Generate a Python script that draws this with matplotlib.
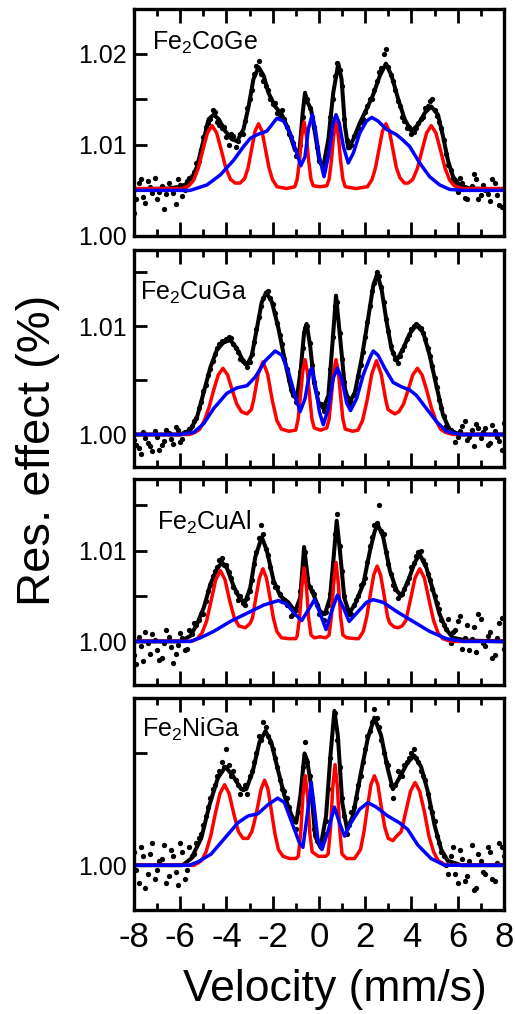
import numpy as np
import matplotlib
matplotlib.use("Agg")
import matplotlib.pyplot as plt

plt.rcParams['font.family'] = ['Liberation Sans', 'DejaVu Sans']
plt.rcParams['axes.unicode_minus'] = False

# Data: (velocity mm/s, relative effect)
names = [r'Fe$_\mathregular{2}$CoGe', r'Fe$_\mathregular{2}$CuGa',
         r'Fe$_\mathregular{2}$CuAl', r'Fe$_\mathregular{2}$NiGa']

# measured points: even channels (-8.0 ... 8.0) and odd channels (-7.9 ... 7.9), step 0.2
dot_vel = np.linspace(-8, 8, 81)
dot_vel_odd = np.linspace(-7.9, 7.9, 80)

coge_dots = [1.0025, 1.0058, 1.0043, 1.0060, 1.0047, 1.0040, 1.0055, 1.0046, 1.0052, 1.0035,
             1.0056, 1.0050, 1.0064, 1.0070, 1.0082, 1.0108, 1.0124, 1.0138, 1.0125, 1.0118,
             1.0108, 1.0112, 1.0098, 1.0112, 1.0126, 1.0150, 1.0178, 1.0192, 1.0170, 1.0160,
             1.0145, 1.0135, 1.0138, 1.0120, 1.0108, 1.0088, 1.0100, 1.0152, 1.0140, 1.0120,
             1.0082, 1.0072, 1.0100, 1.0150, 1.0190, 1.0165, 1.0105, 1.0100, 1.0112, 1.0125,
             1.0136, 1.0150, 1.0160, 1.0180, 1.0200, 1.0185, 1.0170, 1.0148, 1.0130, 1.0118,
             1.0112, 1.0118, 1.0128, 1.0140, 1.0148, 1.0138, 1.0125, 1.0105, 1.0078, 1.0062,
             1.0048, 1.0058, 1.0040, 1.0055, 1.0062, 1.0045, 1.0050, 1.0038, 1.0058, 1.0034,
             1.0052]
coge_dots_odd = [1.0040, 1.0062, 1.0036, 1.0054, 1.0064, 1.0048, 1.0030, 1.0058, 1.0047, 1.0062,
                 1.0044, 1.0060, 1.0066, 1.0080, 1.0094, 1.0120, 1.0128, 1.0136, 1.0122, 1.0120,
                 1.0100, 1.0110, 1.0104, 1.0112, 1.0140, 1.0160, 1.0186, 1.0178, 1.0165, 1.0150,
                 1.0146, 1.0130, 1.0128, 1.0112, 1.0102, 1.0090, 1.0130, 1.0150, 1.0130, 1.0098,
                 1.0080, 1.0088, 1.0130, 1.0175, 1.0182, 1.0128, 1.0098, 1.0110, 1.0118, 1.0128,
                 1.0142, 1.0150, 1.0170, 1.0184, 1.0205, 1.0176, 1.0160, 1.0142, 1.0126, 1.0120,
                 1.0114, 1.0124, 1.0130, 1.0142, 1.0150, 1.0132, 1.0118, 1.0090, 1.0072, 1.0058,
                 1.0064, 1.0042, 1.0052, 1.0068, 1.0040, 1.0056, 1.0046, 1.0062, 1.0045, 1.0032]
cuga_dots = [0.9995, 0.9988, 1.0002, 0.9992, 0.9985, 0.9998, 0.9990, 1.0004, 0.9996, 1.0007,
             0.9993, 1.0002, 1.0005, 1.0012, 1.0024, 1.0040, 1.0055, 1.0068, 1.0080, 1.0086,
             1.0088, 1.0089, 1.0080, 1.0070, 1.0066, 1.0067, 1.0085, 1.0108, 1.0126, 1.0132,
             1.0120, 1.0103, 1.0083, 1.0060, 1.0042, 1.0030, 1.0058, 1.0098, 1.0084, 1.0048,
             1.0028, 1.0022, 1.0035, 1.0090, 1.0122, 1.0070, 1.0035, 1.0030, 1.0042, 1.0064,
             1.0090, 1.0118, 1.0140, 1.0146, 1.0122, 1.0095, 1.0075, 1.0066, 1.0078, 1.0088,
             1.0097, 1.0102, 1.0098, 1.0088, 1.0072, 1.0052, 1.0032, 1.0017, 1.0006, 1.0002,
             0.9998, 1.0008, 0.9995, 1.0004, 1.0010, 0.9997, 1.0006, 0.9992, 1.0003, 0.9994,
             1.0011]
cuga_dots_odd = [0.9990, 0.9982, 0.9997, 0.9989, 1.0003, 0.9986, 0.9994, 1.0001, 0.9991, 1.0004,
                 0.9996, 1.0001, 1.0008, 1.0015, 1.0030, 1.0046, 1.0060, 1.0074, 1.0083, 1.0086,
                 1.0090, 1.0083, 1.0076, 1.0068, 1.0062, 1.0074, 1.0097, 1.0118, 1.0130, 1.0126,
                 1.0112, 1.0092, 1.0070, 1.0050, 1.0036, 1.0040, 1.0080, 1.0100, 1.0064, 1.0038,
                 1.0028, 1.0026, 1.0060, 1.0118, 1.0094, 1.0048, 1.0027, 1.0036, 1.0054, 1.0076,
                 1.0104, 1.0132, 1.0150, 1.0136, 1.0106, 1.0082, 1.0070, 1.0072, 1.0082, 1.0092,
                 1.0100, 1.0100, 1.0094, 1.0080, 1.0063, 1.0044, 1.0024, 1.0008, 1.0004, 0.9993,
                 1.0003, 1.0012, 0.9998, 0.9989, 1.0006, 1.0002, 0.9990, 1.0009, 0.9998, 0.9986]
cual_dots = [0.9985, 1.0005, 0.9978, 0.9998, 1.0008, 0.9990, 0.9982, 1.0012, 0.9994, 0.9986,
             1.0009, 0.9990, 1.0012, 1.0020, 1.0024, 1.0030, 1.0055, 1.0072, 1.0082, 1.0092,
             1.0084, 1.0070, 1.0054, 1.0050, 1.0040, 1.0055, 1.0085, 1.0114, 1.0118, 1.0095,
             1.0065, 1.0060, 1.0045, 1.0040, 1.0028, 1.0035, 1.0055, 1.0098, 1.0060, 1.0052,
             1.0030, 1.0024, 1.0040, 1.0085, 1.0140, 1.0078, 1.0036, 1.0030, 1.0046, 1.0062,
             1.0070, 1.0105, 1.0128, 1.0150, 1.0118, 1.0085, 1.0062, 1.0048, 1.0052, 1.0064,
             1.0082, 1.0094, 1.0100, 1.0085, 1.0068, 1.0050, 1.0036, 1.0018, 1.0025, 1.0010,
             1.0022, 0.9992, 1.0018, 1.0003, 0.9988, 1.0025, 0.9995, 1.0010, 0.9985, 1.0020,
             0.9992]
cual_dots_odd = [0.9975, 0.9995, 1.0010, 0.9986, 1.0002, 0.9980, 0.9998, 1.0005, 0.9976, 0.9996,
                 1.0004, 0.9992, 1.0008, 1.0018, 1.0030, 1.0045, 1.0062, 1.0078, 1.0090, 1.0084,
                 1.0076, 1.0060, 1.0046, 1.0042, 1.0048, 1.0068, 1.0098, 1.0128, 1.0102, 1.0082,
                 1.0060, 1.0052, 1.0046, 1.0040, 1.0030, 1.0040, 1.0085, 1.0070, 1.0056, 1.0040,
                 1.0030, 1.0032, 1.0052, 1.0118, 1.0105, 1.0050, 1.0030, 1.0040, 1.0050, 1.0064,
                 1.0088, 1.0115, 1.0130, 1.0122, 1.0098, 1.0074, 1.0058, 1.0052, 1.0058, 1.0070,
                 1.0086, 1.0098, 1.0090, 1.0074, 1.0058, 1.0042, 1.0024, 1.0014, 0.9998, 1.0012,
                 1.0028, 1.0004, 0.9990, 1.0016, 1.0030, 0.9998, 1.0006, 0.9982, 1.0004, 1.0026]
niga_dots = [1.0006, 0.9992, 1.0004, 0.9996, 1.0010, 0.9998, 1.0003, 0.9992, 1.0007, 0.9997,
             1.0010, 0.9994, 1.0008, 1.0005, 1.0012, 1.0018, 1.0026, 1.0034, 1.0040, 1.0046,
             1.0052, 1.0040, 1.0038, 1.0032, 1.0036, 1.0040, 1.0046, 1.0058, 1.0064, 1.0058,
             1.0052, 1.0044, 1.0034, 1.0030, 1.0022, 1.0016, 1.0030, 1.0055, 1.0040, 1.0016,
             1.0010, 1.0014, 1.0034, 1.0062, 1.0056, 1.0030, 1.0014, 1.0024, 1.0030, 1.0040,
             1.0052, 1.0060, 1.0070, 1.0062, 1.0050, 1.0045, 1.0030, 1.0042, 1.0040, 1.0046,
             1.0050, 1.0048, 1.0042, 1.0038, 1.0026, 1.0020, 1.0010, 1.0004, 0.9996, 1.0008,
             0.9992, 1.0003, 0.9995, 1.0009, 0.9990, 1.0002, 0.9996, 1.0006, 0.9993, 1.0010,
             1.0004]
niga_dots_odd = [0.9998, 1.0008, 0.9990, 1.0005, 0.9994, 1.0002, 1.0009, 0.9995, 1.0004, 0.9991,
                 1.0006, 0.9998, 1.0004, 1.0010, 1.0014, 1.0022, 1.0030, 1.0036, 1.0042, 1.0044,
                 1.0045, 1.0042, 1.0036, 1.0034, 1.0032, 1.0042, 1.0050, 1.0056, 1.0062, 1.0055,
                 1.0048, 1.0038, 1.0033, 1.0026, 1.0020, 1.0024, 1.0044, 1.0046, 1.0030, 1.0011,
                 1.0008, 1.0020, 1.0048, 1.0068, 1.0044, 1.0022, 1.0018, 1.0026, 1.0036, 1.0046,
                 1.0058, 1.0064, 1.0066, 1.0056, 1.0046, 1.0036, 1.0036, 1.0040, 1.0045, 1.0048,
                 1.0052, 1.0046, 1.0040, 1.0032, 1.0024, 1.0013, 1.0006, 1.0000, 1.0004, 0.9996,
                 1.0007, 0.9993, 1.0002, 0.9989, 1.0005, 0.9997, 1.0008, 0.9994, 1.0001, 1.0008]

# total fit (black)
coge_fit = [(-8, 1.0051), (-6.52, 1.0052), (-6.0, 1.0054), (-5.56, 1.0059), (-5.27, 1.0076),
            (-4.98, 1.0106), (-4.77, 1.0128), (-4.55, 1.0133), (-4.33, 1.0128), (-4.05, 1.0115),
            (-3.76, 1.0106), (-3.54, 1.0104), (-3.26, 1.0117), (-3.04, 1.0142), (-2.83, 1.0172),
            (-2.61, 1.0185), (-2.39, 1.0176), (-2.18, 1.0157), (-1.89, 1.0142), (-1.60, 1.0133),
            (-1.32, 1.0117), (-1.03, 1.0094), (-0.84, 1.0093), (-0.70, 1.0135), (-0.60, 1.0157),
            (-0.48, 1.0146), (-0.34, 1.0139), (-0.17, 1.0113), (0.02, 1.0083), (0.19, 1.0076),
            (0.41, 1.0106), (0.62, 1.0157), (0.84, 1.0189), (0.98, 1.0172), (1.13, 1.0120),
            (1.27, 1.0096), (1.49, 1.0106), (1.77, 1.0124), (2.06, 1.0139), (2.35, 1.0155),
            (2.64, 1.0176), (2.90, 1.0189), (3.14, 1.0176), (3.43, 1.0150), (3.71, 1.0128),
            (4.00, 1.0115), (4.29, 1.0122), (4.58, 1.0135), (4.86, 1.0142), (5.15, 1.0133),
            (5.37, 1.0109), (5.58, 1.0083), (5.80, 1.0065), (6.09, 1.0056), (6.52, 1.0052),
            (8, 1.0051)]
cuga_fit = [(-8, 1.0000), (-6.0, 1.0000), (-5.56, 1.0004), (-5.27, 1.0016), (-4.98, 1.0039),
            (-4.69, 1.0062), (-4.41, 1.0078), (-4.12, 1.0085), (-3.83, 1.0087), (-3.54, 1.0079),
            (-3.33, 1.0070), (-3.11, 1.0064), (-2.90, 1.0073), (-2.68, 1.0098), (-2.47, 1.0122),
            (-2.28, 1.0131), (-2.03, 1.0122), (-1.75, 1.0098), (-1.46, 1.0067), (-1.17, 1.0039),
            (-0.96, 1.0032), (-0.78, 1.0061), (-0.64, 1.0094), (-0.53, 1.0102), (-0.38, 1.0082),
            (-0.21, 1.0048), (-0.02, 1.0030), (0.19, 1.0024), (0.41, 1.0036), (0.58, 1.0082),
            (0.74, 1.0128), (0.91, 1.0091), (1.13, 1.0042), (1.31, 1.0029), (1.56, 1.0039),
            (1.85, 1.0070), (2.13, 1.0107), (2.35, 1.0137), (2.52, 1.0148), (2.71, 1.0134),
            (2.92, 1.0105), (3.14, 1.0079), (3.36, 1.0068), (3.64, 1.0079), (3.93, 1.0093),
            (4.22, 1.0101), (4.51, 1.0094), (4.79, 1.0073), (5.08, 1.0045), (5.37, 1.0018),
            (5.66, 1.0004), (6.09, 1.0000), (8, 1.0000)]
cual_fit = [(-8, 1.0000), (-6.0, 1.0000), (-5.56, 1.0006), (-5.27, 1.0019), (-4.98, 1.0037),
            (-4.69, 1.0063), (-4.41, 1.0080), (-4.19, 1.0087), (-3.98, 1.0081), (-3.69, 1.0061),
            (-3.40, 1.0046), (-3.18, 1.0044), (-2.97, 1.0059), (-2.75, 1.0093), (-2.47, 1.0115),
            (-2.25, 1.0100), (-1.96, 1.0067), (-1.67, 1.0050), (-1.32, 1.0043), (-1.03, 1.0033),
            (-0.81, 1.0048), (-0.64, 1.0104), (-0.45, 1.0063), (-0.24, 1.0052), (0.05, 1.0033),
            (0.26, 1.0030), (0.48, 1.0048), (0.65, 1.0096), (0.77, 1.0133), (0.91, 1.0100),
            (1.10, 1.0048), (1.31, 1.0031), (1.56, 1.0041), (1.92, 1.0063), (2.21, 1.0100),
            (2.42, 1.0122), (2.56, 1.0128), (2.78, 1.0115), (3.07, 1.0078), (3.36, 1.0056),
            (3.57, 1.0050), (3.86, 1.0067), (4.15, 1.0087), (4.36, 1.0096), (4.65, 1.0081),
            (4.94, 1.0056), (5.22, 1.0030), (5.51, 1.0013), (5.80, 1.0004), (6.37, 1.0001),
            (8, 1.0000)]
niga_fit = [(-8, 1.0000), (-5.9, 1.0000), (-5.52, 1.0003), (-5.09, 1.0012), (-4.73, 1.0027),
            (-4.37, 1.0039), (-4.04, 1.0044), (-3.72, 1.0040), (-3.36, 1.0034), (-3.14, 1.0034),
            (-2.86, 1.0042), (-2.57, 1.0055), (-2.31, 1.0060), (-2.06, 1.0055), (-1.78, 1.0043),
            (-1.49, 1.0031), (-1.17, 1.0022), (-0.98, 1.0019), (-0.80, 1.0031), (-0.62, 1.0050),
            (-0.51, 1.0047), (-0.36, 1.0037), (-0.16, 1.0013), (0.07, 1.0008), (0.31, 1.0022),
            (0.50, 1.0049), (0.67, 1.0069), (0.82, 1.0058), (1.01, 1.0028), (1.22, 1.0016),
            (1.47, 1.0022), (1.83, 1.0042), (2.12, 1.0057), (2.40, 1.0066), (2.69, 1.0058),
            (2.98, 1.0043), (3.20, 1.0034), (3.48, 1.0039), (3.84, 1.0046), (4.13, 1.0049),
            (4.42, 1.0044), (4.71, 1.0033), (5.00, 1.0018), (5.29, 1.0007), (5.57, 1.0002),
            (6.15, 1.0000), (8, 1.0000)]

# sextet component (red)
coge_red = [(-8, 1.0052), (-5.9, 1.0052), (-5.62, 1.0055), (-5.42, 1.0061), (-5.22, 1.0074),
            (-5.02, 1.0094), (-4.82, 1.0113), (-4.62, 1.0121), (-4.42, 1.0113), (-4.22, 1.0094),
            (-4.02, 1.0074), (-3.82, 1.0062), (-3.62, 1.0058), (-3.41, 1.0058), (-3.21, 1.0063),
            (-3.06, 1.0075), (-2.91, 1.0095), (-2.76, 1.0115), (-2.61, 1.0123), (-2.46, 1.0115),
            (-2.31, 1.0095), (-2.16, 1.0075), (-2.01, 1.0062), (-1.81, 1.0054), (-1.4, 1.0052),
            (-1.04, 1.0054), (-0.94, 1.0062), (-0.84, 1.0082), (-0.74, 1.0110), (-0.64, 1.0125),
            (-0.54, 1.0110), (-0.44, 1.0082), (-0.34, 1.0062), (-0.24, 1.0055), (0.05, 1.0054),
            (0.34, 1.0055), (0.44, 1.0062), (0.54, 1.0082), (0.64, 1.0110), (0.74, 1.0125),
            (0.84, 1.0110), (0.94, 1.0082), (1.04, 1.0062), (1.14, 1.0054), (1.6, 1.0052),
            (2.10, 1.0054), (2.30, 1.0062), (2.45, 1.0075), (2.60, 1.0095), (2.75, 1.0115),
            (2.90, 1.0123), (3.05, 1.0115), (3.20, 1.0095), (3.35, 1.0075), (3.50, 1.0064),
            (3.70, 1.0058), (3.86, 1.0058), (4.06, 1.0062), (4.26, 1.0074), (4.46, 1.0094),
            (4.66, 1.0113), (4.86, 1.0121), (5.06, 1.0113), (5.26, 1.0094), (5.46, 1.0074),
            (5.66, 1.0061), (5.86, 1.0055), (6.2, 1.0052), (8, 1.0052)]
cuga_red = [(-8, 1.0), (-5.6, 1.0), (-5.35, 1.0002), (-5.15, 1.0005), (-4.95, 1.0013),
            (-4.75, 1.0025), (-4.55, 1.0041), (-4.35, 1.0055), (-4.15, 1.0061), (-3.95, 1.0055),
            (-3.75, 1.0041), (-3.55, 1.0028), (-3.35, 1.0021), (-3.11, 1.0019), (-2.92, 1.0023),
            (-2.82, 1.0032), (-2.62, 1.0056), (-2.42, 1.0067), (-2.22, 1.0056), (-2.02, 1.0032),
            (-1.82, 1.0013), (-1.62, 1.0005), (-1.3, 1.0003), (-1.0, 1.0004), (-0.9, 1.0014),
            (-0.8, 1.0035), (-0.7, 1.0058), (-0.6, 1.0069), (-0.5, 1.0058), (-0.4, 1.0035),
            (-0.3, 1.0014), (-0.2, 1.0006), (0.07, 1.0004), (0.34, 1.0006), (0.44, 1.0014),
            (0.54, 1.0035), (0.64, 1.0058), (0.74, 1.0069), (0.84, 1.0058), (0.94, 1.0035),
            (1.04, 1.0014), (1.14, 1.0005), (1.45, 1.0003), (1.69, 1.0004), (1.89, 1.0013),
            (2.09, 1.0032), (2.29, 1.0056), (2.49, 1.0068), (2.69, 1.0056), (2.89, 1.0032),
            (2.99, 1.0023), (3.28, 1.0019), (3.46, 1.0021), (3.66, 1.0028), (3.86, 1.0041),
            (4.06, 1.0055), (4.26, 1.0061), (4.46, 1.0055), (4.66, 1.0041), (4.86, 1.0025),
            (5.06, 1.0013), (5.26, 1.0005), (5.46, 1.0002), (5.8, 1.0), (8, 1.0)]
cual_red = [(-8, 1.0), (-5.5, 1.0), (-5.26, 1.0003), (-5.06, 1.0009), (-4.86, 1.0022),
            (-4.66, 1.0045), (-4.46, 1.0068), (-4.26, 1.0078), (-4.06, 1.0068), (-3.86, 1.0045),
            (-3.66, 1.0026), (-3.46, 1.0017), (-3.18, 1.0015), (-2.97, 1.0020), (-2.87, 1.0026),
            (-2.72, 1.0049), (-2.57, 1.0070), (-2.42, 1.0080), (-2.27, 1.0070), (-2.12, 1.0049),
            (-1.97, 1.0026), (-1.82, 1.0011), (-1.62, 1.0004), (-1.3, 1.0003), (-1.0, 1.0003),
            (-0.94, 1.0006), (-0.84, 1.0025), (-0.74, 1.0060), (-0.64, 1.0081), (-0.54, 1.0060),
            (-0.44, 1.0025), (-0.34, 1.0007), (-0.2, 1.0004), (0.05, 1.0005), (0.3, 1.0004),
            (0.44, 1.0007), (0.54, 1.0027), (0.64, 1.0064), (0.74, 1.0087), (0.84, 1.0064),
            (0.94, 1.0027), (1.04, 1.0007), (1.2, 1.0004), (1.6, 1.0003), (1.72, 1.0003),
            (1.92, 1.0011), (2.07, 1.0027), (2.22, 1.0051), (2.37, 1.0073), (2.52, 1.0083),
            (2.67, 1.0073), (2.82, 1.0051), (2.97, 1.0027), (3.07, 1.0020), (3.25, 1.0016),
            (3.43, 1.0015), (3.6, 1.0017), (3.76, 1.0023), (3.96, 1.0046), (4.16, 1.0070),
            (4.36, 1.0080), (4.56, 1.0070), (4.76, 1.0046), (4.96, 1.0023), (5.16, 1.0009),
            (5.36, 1.0003), (5.7, 1.0), (8, 1.0)]
niga_red = [(-8, 1.0), (-5.4, 1.0), (-5.08, 1.0002), (-4.88, 1.0006), (-4.68, 1.0013),
            (-4.48, 1.0023), (-4.28, 1.0032), (-4.08, 1.0036), (-3.88, 1.0032), (-3.68, 1.0023),
            (-3.48, 1.0015), (-3.28, 1.0012), (-3.07, 1.0012), (-2.9, 1.0015), (-2.8, 1.0019),
            (-2.65, 1.0026), (-2.5, 1.0034), (-2.35, 1.0038), (-2.2, 1.0034), (-2.05, 1.0024),
            (-1.9, 1.0014), (-1.75, 1.0007), (-1.55, 1.0004), (-1.27, 1.0003), (-0.99, 1.0003),
            (-0.89, 1.0004), (-0.79, 1.0014), (-0.69, 1.0031), (-0.59, 1.0040), (-0.49, 1.0031),
            (-0.39, 1.0014), (-0.29, 1.0006), (-0.03, 1.0004), (0.30, 1.0004), (0.40, 1.0005),
            (0.50, 1.0016), (0.60, 1.0035), (0.70, 1.0045), (0.80, 1.0035), (0.90, 1.0016),
            (1.00, 1.0005), (1.2, 1.0003), (1.54, 1.0003), (1.80, 1.0007), (1.95, 1.0015),
            (2.10, 1.0026), (2.25, 1.0036), (2.40, 1.0040), (2.55, 1.0036), (2.70, 1.0026),
            (2.85, 1.0017), (3.0, 1.0012), (3.2, 1.0011), (3.36, 1.0013), (3.56, 1.0015),
            (3.76, 1.0024), (3.96, 1.0033), (4.16, 1.0037), (4.36, 1.0033), (4.56, 1.0024),
            (4.76, 1.0013), (4.96, 1.0006), (5.16, 1.0002), (5.5, 1.0), (8, 1.0)]

# distribution component (blue)
coge_blue = [(-8, 1.0050), (-5.56, 1.0050), (-4.84, 1.0056), (-4.26, 1.0067), (-3.69, 1.0083),
             (-3.26, 1.0098), (-2.97, 1.0107), (-2.68, 1.0111), (-2.25, 1.0115), (-1.82, 1.0129),
             (-1.53, 1.0126), (-1.24, 1.0113), (-0.96, 1.0091), (-0.78, 1.0077), (-0.60, 1.0087),
             (-0.45, 1.0118), (-0.28, 1.0133), (-0.14, 1.0115), (0.02, 1.0087), (0.22, 1.0065),
             (0.41, 1.0087), (0.62, 1.0124), (0.74, 1.0133), (0.88, 1.0124), (1.06, 1.0098),
             (1.27, 1.0080), (1.49, 1.0091), (1.77, 1.0113), (2.06, 1.0126), (2.28, 1.0130),
             (2.56, 1.0126), (2.92, 1.0117), (3.36, 1.0111), (3.64, 1.0105), (3.93, 1.0098),
             (4.36, 1.0080), (4.79, 1.0065), (5.22, 1.0056), (5.66, 1.0051), (6.23, 1.0050),
             (8, 1.0050)]
cuga_blue = [(-8, 1.0000), (-5.99, 1.0000), (-5.41, 1.0002), (-4.98, 1.0010), (-4.55, 1.0024),
             (-3.98, 1.0038), (-3.54, 1.0043), (-3.11, 1.0045), (-2.75, 1.0053), (-2.32, 1.0068),
             (-1.89, 1.0077), (-1.60, 1.0073), (-1.32, 1.0058), (-1.03, 1.0036), (-0.81, 1.0021),
             (-0.60, 1.0033), (-0.38, 1.0059), (-0.31, 1.0061), (-0.17, 1.0048), (0.02, 1.0021),
             (0.19, 1.0009), (0.41, 1.0024), (0.62, 1.0052), (0.80, 1.0061), (0.98, 1.0052),
             (1.20, 1.0029), (1.37, 1.0022), (1.63, 1.0033), (1.92, 1.0055), (2.21, 1.0071),
             (2.35, 1.0077), (2.56, 1.0073), (2.85, 1.0061), (3.21, 1.0048), (3.57, 1.0044),
             (3.93, 1.0041), (4.22, 1.0036), (4.65, 1.0024), (5.08, 1.0012), (5.51, 1.0003),
             (6.09, 1.0000), (8, 1.0000)]
cual_blue = [(-8, 1.0000), (-5.56, 1.0000), (-5.12, 1.0004), (-4.55, 1.0011), (-3.83, 1.0022),
             (-3.11, 1.0031), (-2.39, 1.0040), (-1.75, 1.0045), (-1.39, 1.0041), (-1.03, 1.0030),
             (-0.74, 1.0023), (-0.45, 1.0035), (-0.19, 1.0046), (0.02, 1.0033), (0.31, 1.0013),
             (0.55, 1.0033), (0.80, 1.0051), (1.06, 1.0037), (1.31, 1.0022), (1.63, 1.0031),
             (2.06, 1.0043), (2.35, 1.0046), (2.78, 1.0043), (3.36, 1.0033), (4.07, 1.0022),
             (4.79, 1.0011), (5.51, 1.0003), (6.23, 1.0000), (8, 1.0000)]
niga_blue = [(-8, 1.0000), (-5.6, 1.0000), (-5.23, 1.00015), (-4.66, 1.0005), (-4.08, 1.0012),
             (-3.50, 1.0019), (-3.07, 1.0022), (-2.64, 1.0023), (-2.21, 1.0027), (-1.78, 1.0030),
             (-1.49, 1.0028), (-1.13, 1.0018), (-0.84, 1.0010), (-0.69, 1.0008), (-0.51, 1.0022),
             (-0.33, 1.0037), (-0.19, 1.0025), (-0.05, 1.0012), (0.13, 1.0007), (0.39, 1.0015),
             (0.67, 1.0026), (0.89, 1.0019), (1.11, 1.0013), (1.39, 1.0019), (1.76, 1.0025),
             (2.12, 1.0028), (2.48, 1.0026), (2.98, 1.0022), (3.48, 1.0019), (3.84, 1.0016),
             (4.28, 1.0009), (4.85, 1.0003), (5.43, 1.0000), (8, 1.0000)]

ylims = [(1.000, 1.0249), (0.9970, 1.0170), (0.9952, 1.0179), (0.9980, 1.00748)]
yticks = [[1.000, 1.005, 1.010, 1.015, 1.020], [1.000, 1.005, 1.010, 1.015],
          [1.000, 1.005, 1.010, 1.015], [1.000, 1.005]]
label_pos = [(0.049, 0.82), (0.016, 0.77), (0.062, 0.752), (0.022, 0.816)]

dots = [coge_dots, cuga_dots, cual_dots, niga_dots]
dots_odd = [coge_dots_odd, cuga_dots_odd, cual_dots_odd, niga_dots_odd]
fits = [coge_fit, cuga_fit, cual_fit, niga_fit]
reds = [coge_red, cuga_red, cual_red, niga_red]
blues = [coge_blue, cuga_blue, cual_blue, niga_blue]

# axes boxes in figure fraction (left, bottom, width, height)
boxes = [(0.260, 0.7673, 0.7184, 0.2239), (0.260, 0.5394, 0.7184, 0.2140),
         (0.260, 0.3245, 0.7184, 0.2032), (0.260, 0.1026, 0.7184, 0.2091)]

fig = plt.figure(figsize=(5.15, 10.14), dpi=100)

for i in range(4):
    ax = fig.add_axes(boxes[i])
    ax.plot(dot_vel, dots[i], 'o', color='black', markersize=3.8, markeredgewidth=0)
    ax.plot(dot_vel_odd, dots_odd[i], 'o', color='black', markersize=3.8, markeredgewidth=0)
    fv, fy = zip(*fits[i])
    ax.plot(fv, fy, color='black', lw=2.9, solid_joinstyle='round')
    rv, ry = zip(*reds[i])
    ax.plot(rv, ry, color='#ff0000', lw=2.5, solid_joinstyle='round')
    bv, by = zip(*blues[i])
    ax.plot(bv, by, color='#0000ff', lw=2.5, solid_joinstyle='round')

    ax.set_xlim(-8, 8)
    ax.set_ylim(*ylims[i])
    ax.set_xticks(range(-8, 9, 2))
    ax.set_xticks(range(-7, 8, 2), minor=True)
    ax.set_yticks(yticks[i])
    ax.set_yticklabels(['%.2f' % t if round(t * 1000) % 10 == 0 else '' for t in yticks[i]])
    ax.tick_params(axis='x', which='both', direction='in', top=True, bottom=True,
                   width=2, labelsize=25, pad=8)
    ax.tick_params(axis='x', which='major', length=10)
    ax.tick_params(axis='x', which='minor', length=5)
    ax.tick_params(axis='y', which='major', direction='in', length=9, width=2,
                   labelsize=18, pad=5)
    if i < 3:
        ax.tick_params(axis='x', labelbottom=False)
    for sp in ax.spines.values():
        sp.set_linewidth(2.4)
    ax.text(label_pos[i][0], label_pos[i][1], names[i], transform=ax.transAxes,
            fontsize=18, ha='left', va='baseline')

fig.text(0.074, 0.556, 'Res. effect (%)', rotation=90, fontsize=34,
         ha='center', va='center')
fig.text(0.650, 0.024, 'Velocity (mm/s)', fontsize=32, ha='center', va='center')

fig.savefig('out.png', dpi=100)
